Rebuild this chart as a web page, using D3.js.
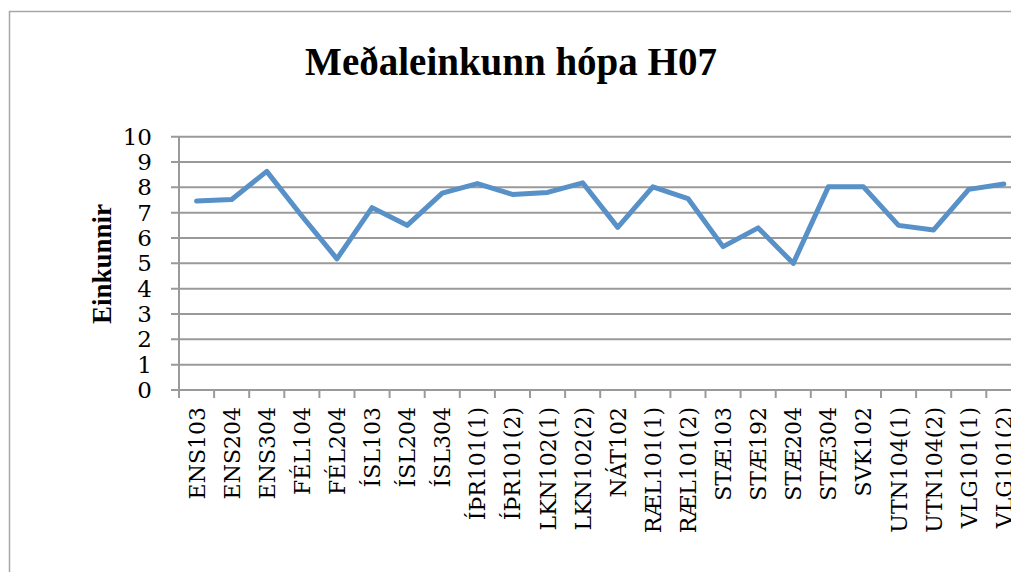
<!DOCTYPE html>
<html>
<head>
<meta charset="utf-8">
<script src="https://cdn.jsdelivr.net/npm/d3@7"></script>
<style>
  body { margin: 0; background: #fff; }
  svg { display: block; }
</style>
</head>
<body>
<div id="chart"></div>
<script>
const categories = ["ENS103", "ENS204", "ENS304", "FÉL104", "FÉL204", "ÍSL103", "ÍSL204", "ÍSL304",
  "ÍÞR101(1)", "ÍÞR101(2)", "LKN102(1)", "LKN102(2)", "NÁT102", "RÆL101(1)", "RÆL101(2)",
  "STÆ103", "STÆ192", "STÆ204", "STÆ304", "SVK102", "UTN104(1)", "UTN104(2)", "VLG101(1)", "VLG101(2)"];
const values = [7.46, 7.52, 8.63, 6.87, 5.18, 7.2, 6.5, 7.77, 8.15, 7.72, 7.8, 8.18, 6.42, 8.02,
  7.56, 5.66, 6.4, 5.0, 8.02, 8.02, 6.5, 6.32, 7.92, 8.13];
const yTicks = [0, 1, 2, 3, 4, 5, 6, 7, 8, 9, 10];

const width = 1011, height = 572;
const margin = { left: 179, top: 136.7, bottom: 390 };
const band = 35.1;

const svg = d3.select('#chart').append('svg')
  .attr('width', width)
  .attr('height', height);

// outer frame (runs off the right and bottom edge)
svg.append('rect')
  .attr('x', 9.5).attr('y', 11.5)
  .attr('width', 1100).attr('height', 700)
  .attr('fill', 'none')
  .attr('stroke', '#a6a6a6')
  .attr('stroke-width', 1.5);

const x = d3.scaleBand()
  .domain(categories)
  .range([margin.left, margin.left + band * categories.length]);

const y = d3.scaleLinear()
  .domain([0, 10])
  .range([margin.bottom, margin.top]);

// gridlines
svg.append('g')
  .selectAll('line')
  .data(yTicks)
  .enter()
  .append('line')
  .attr('x1', margin.left - 8)
  .attr('x2', width + 20)
  .attr('y1', d => y(d))
  .attr('y2', d => y(d))
  .attr('stroke', '#9a9a9a')
  .attr('stroke-width', 2);

// y axis line
svg.append('line')
  .attr('x1', margin.left).attr('x2', margin.left)
  .attr('y1', margin.top).attr('y2', margin.bottom + 8)
  .attr('stroke', '#9a9a9a')
  .attr('stroke-width', 2);

// x ticks at band edges
svg.append('g')
  .selectAll('line')
  .data(categories)
  .enter()
  .append('line')
  .attr('x1', d => x(d) + band)
  .attr('x2', d => x(d) + band)
  .attr('y1', margin.bottom)
  .attr('y2', margin.bottom + 8)
  .attr('stroke', '#9a9a9a')
  .attr('stroke-width', 2);

// y tick labels
svg.append('g')
  .selectAll('text')
  .data(yTicks)
  .enter()
  .append('text')
  .attr('x', 152)
  .attr('y', d => y(d))
  .attr('dy', '0.35em')
  .attr('text-anchor', 'end')
  .attr('font-family', 'DejaVu Serif')
  .attr('font-size', 23)
  .attr('fill', '#000')
  .text(d => d);

// x tick labels (rotated)
svg.append('g')
  .selectAll('text')
  .data(categories)
  .enter()
  .append('text')
  .attr('transform', d => 'translate(' + (x(d) + x.bandwidth() / 2 + 8) + ',' + 407 + ') rotate(-90)')
  .attr('text-anchor', 'end')
  .attr('font-family', 'DejaVu Serif')
  .attr('font-size', 22)
  .attr('fill', '#000')
  .text(d => d);

// axis title
svg.append('text')
  .attr('transform', 'translate(111,264) rotate(-90)')
  .attr('text-anchor', 'middle')
  .attr('font-family', 'Liberation Serif')
  .attr('font-weight', 'bold')
  .attr('font-size', 27)
  .attr('fill', '#000')
  .text('Einkunnir');

// chart title
svg.append('text')
  .attr('x', 511)
  .attr('y', 75)
  .attr('text-anchor', 'middle')
  .attr('font-family', 'Liberation Serif')
  .attr('font-weight', 'bold')
  .attr('font-size', 39)
  .attr('fill', '#000')
  .text('Meðaleinkunn hópa H07');

// the line
const line = d3.line()
  .x((d, i) => x(categories[i]) + x.bandwidth() / 2)
  .y(d => y(d));

svg.append('path')
  .datum(values)
  .attr('d', line)
  .attr('fill', 'none')
  .attr('stroke', '#5890c8')
  .attr('stroke-width', 5)
  .attr('stroke-linejoin', 'round')
  .attr('stroke-linecap', 'round');
</script>
</body>
</html>
